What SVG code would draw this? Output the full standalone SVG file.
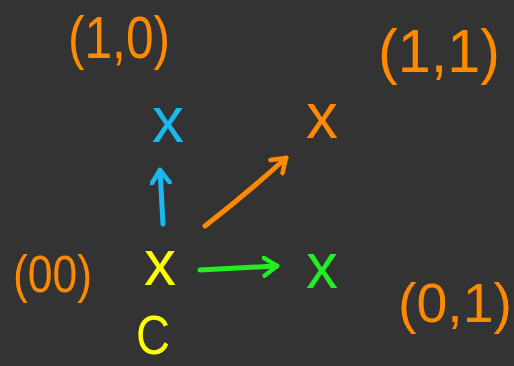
<svg xmlns="http://www.w3.org/2000/svg" width="514" height="366" viewBox="0 0 514 366">
<style>
.lbl{font-family:"Liberation Sans",Arial,sans-serif;fill:#FF8A00}
.mk{font-family:"Liberation Sans",Arial,sans-serif;font-size:64px;text-anchor:middle}
.c{fill:none;stroke-width:5;stroke-linecap:round;stroke-linejoin:round}
</style>
<defs>
<marker id="ab" viewBox="0 0 22 22" refX="15" refY="11" markerWidth="22" markerHeight="22" markerUnits="userSpaceOnUse" orient="auto"><path d="M2,2 L15,11 L2,20" fill="none" stroke="#1AB8F0" stroke-width="4.5" stroke-linecap="round" stroke-linejoin="round"/></marker>
<marker id="ao" viewBox="0 0 22 22" refX="15" refY="11" markerWidth="22" markerHeight="22" markerUnits="userSpaceOnUse" orient="auto"><path d="M2,2 L15,11 L2,20" fill="none" stroke="#FF8A00" stroke-width="4.5" stroke-linecap="round" stroke-linejoin="round"/></marker>
<marker id="ag" viewBox="0 0 22 22" refX="15" refY="11" markerWidth="22" markerHeight="22" markerUnits="userSpaceOnUse" orient="auto"><path d="M2,2 L15,11 L2,20" fill="none" stroke="#22EE22" stroke-width="4.5" stroke-linecap="round" stroke-linejoin="round"/></marker>
</defs>
<rect width="514" height="366" fill="#333333"/>
<g id="connectors">
<path class="c" stroke="#1AB8F0" d="M163,224 L160,170" marker-end="url(#ab)"/>
<path class="c" stroke="#FF8A00" d="M205,226 Q245,195 286,158" marker-end="url(#ao)"/>
<path class="c" stroke="#22EE22" d="M200,270 L277,266" marker-end="url(#ag)"/>
</g>
<g id="node-10"><text class="mk" x="168" y="142" fill="#1AB8F0">x</text><text class="lbl" x="68" y="58" font-size="60" textLength="102" lengthAdjust="spacingAndGlyphs">(1,0)</text></g>
<g id="node-11"><text class="mk" x="322" y="138" fill="#FF8A00">x</text><text class="lbl" x="378" y="72" font-size="62" textLength="122" lengthAdjust="spacingAndGlyphs">(1,1)</text></g>
<g id="node-00"><text class="mk" x="160" y="285" fill="#FFFF00">x</text><text class="lbl" x="13" y="292" font-size="52" textLength="79" lengthAdjust="spacingAndGlyphs">(00)</text></g>
<g id="node-01"><text class="mk" x="322" y="288" fill="#22EE22">x</text><text class="lbl" x="398" y="322" font-size="56" textLength="114" lengthAdjust="spacingAndGlyphs">(0,1)</text></g>
<g id="label-c"><text x="136" y="354" font-family="Liberation Sans, Arial, sans-serif" font-size="56" fill="#FFFF00" textLength="34" lengthAdjust="spacingAndGlyphs">C</text></g>
</svg>
